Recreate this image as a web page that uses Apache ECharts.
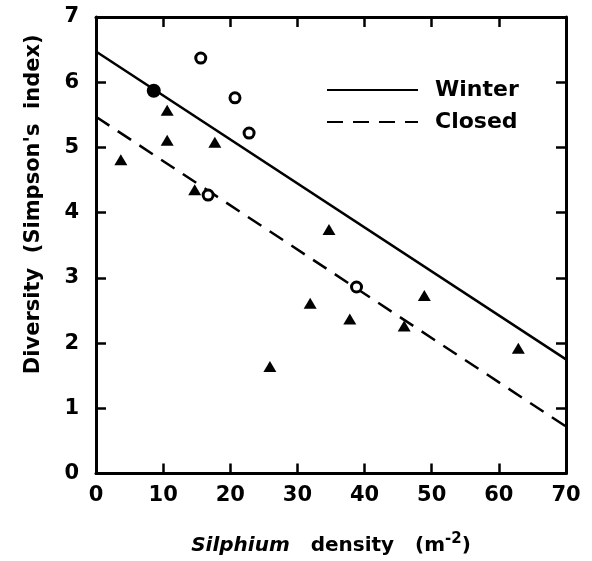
<!DOCTYPE html>
<html style="height: 100%">
<head>
    <meta charset="utf-8">
    <script src="https://cdn.jsdelivr.net/npm/echarts@6/dist/echarts.min.js"></script>
</head>
<body style="height: 100%; margin: 0; background: #fff">
    <div id="main" style="width:592px;height:561px;"></div>
    <script type="text/javascript">
    // 数据
    var winterPts = [[15.6, 6.37], [20.7, 5.76], [22.8, 5.22], [16.7, 4.27], [38.8, 2.86]];
    var overlapPts = [[8.6, 5.87]];
    var closedPts = [[10.6, 5.57], [10.6, 5.11], [3.7, 4.81], [17.7, 5.08], [14.7, 4.35],
        [34.7, 3.74], [31.9, 2.61], [37.8, 2.37], [25.9, 1.64], [48.9, 2.73],
        [45.9, 2.26], [62.9, 1.92]];
    var winterFit = [[0, 6.47], [70, 1.75]];
    var closedFit = [[0, 5.47], [70, 0.72]];

    var myChart = echarts.init(document.getElementById('main'));
    var font = 'DejaVu Sans';
    var axisCommon = {
        type: 'value',
        axisLine: { show: true, onZero: false, lineStyle: { color: '#000', width: 3 } },
        axisTick: { show: true, inside: true, length: 10, lineStyle: { color: '#000', width: 2.5 } },
        splitLine: { show: false },
        axisLabel: { color: '#000', fontFamily: font, fontWeight: 'bold', fontSize: 21 }
    };

    var option = {
        animation: false,
        grid: { left: 96, right: 26, top: 17, bottom: 87 },
        legend: {
            data: ['Winter', 'Closed'],
            orient: 'vertical',
            left: 321,
            top: 74,
            itemWidth: 91,
            itemHeight: 14,
            itemGap: 10,
            itemStyle: { opacity: 0 },
            textStyle: { color: '#000', fontFamily: font, fontWeight: 'bold', fontSize: 22, padding: [0, 0, 0, 12] }
        },
        xAxis: [
            Object.assign({}, axisCommon, {
                min: 0, max: 70, interval: 10,
                axisLabel: Object.assign({}, axisCommon.axisLabel, { margin: 12 }),
                name: '{i|Silphium}   density   (m{sup|-2})',
                nameLocation: 'middle',
                nameGap: 58,
                nameTextStyle: {
                    color: '#000', fontFamily: font, fontWeight: 'bold', fontSize: 20,
                    rich: {
                        i: { fontFamily: font, fontWeight: 'bold', fontStyle: 'italic', fontSize: 20, color: '#000' },
                        sup: { fontFamily: font, fontWeight: 'bold', fontSize: 15, color: '#000', padding: [0, 0, 14, 0] }
                    }
                }
            }),
            Object.assign({}, axisCommon, {
                min: 0, max: 70, interval: 10, position: 'top',
                axisLabel: { show: false }
            })
        ],
        yAxis: [
            Object.assign({}, axisCommon, {
                min: 0, max: 7, interval: 1,
                axisLabel: Object.assign({}, axisCommon.axisLabel, { margin: 17 }),
                name: "Diversity  (Simpson's  index)",
                nameLocation: 'middle',
                nameGap: 52,
                nameTextStyle: {
                    color: '#000', fontFamily: font, fontWeight: 'bold', fontSize: 21,
                    padding: [0, 0, 0, 82]
                }
            }),
            Object.assign({}, axisCommon, {
                min: 0, max: 7, interval: 1, position: 'right',
                axisLabel: { show: false }
            })
        ],
        series: [
            {
                name: 'Winter',
                type: 'line',
                data: winterFit,
                symbol: 'none',
                itemStyle: { color: '#000' },
                lineStyle: { color: '#000', width: 2.5, type: 'solid' },
                z: 2
            },
            {
                name: 'Closed',
                type: 'line',
                data: closedFit,
                symbol: 'none',
                itemStyle: { color: '#000' },
                lineStyle: { color: '#000', width: 2.5, type: [16, 10] },
                z: 2
            },
            {
                name: 'Winter sites',
                type: 'scatter',
                data: winterPts,
                symbol: 'circle',
                symbolSize: 10,
                itemStyle: { color: '#fff', borderColor: '#000', borderWidth: 3, opacity: 1 },
                z: 3
            },
            {
                name: 'Both',
                type: 'scatter',
                data: overlapPts,
                symbol: 'circle',
                symbolSize: 14,
                itemStyle: { color: '#000', opacity: 1 },
                z: 3
            },
            {
                name: 'Closed sites',
                type: 'scatter',
                data: closedPts,
                symbol: 'triangle',
                symbolSize: [13, 11],
                itemStyle: { color: '#000', opacity: 1 },
                z: 3
            }
        ]
    };
    myChart.setOption(option);
    </script>
</body>
</html>
